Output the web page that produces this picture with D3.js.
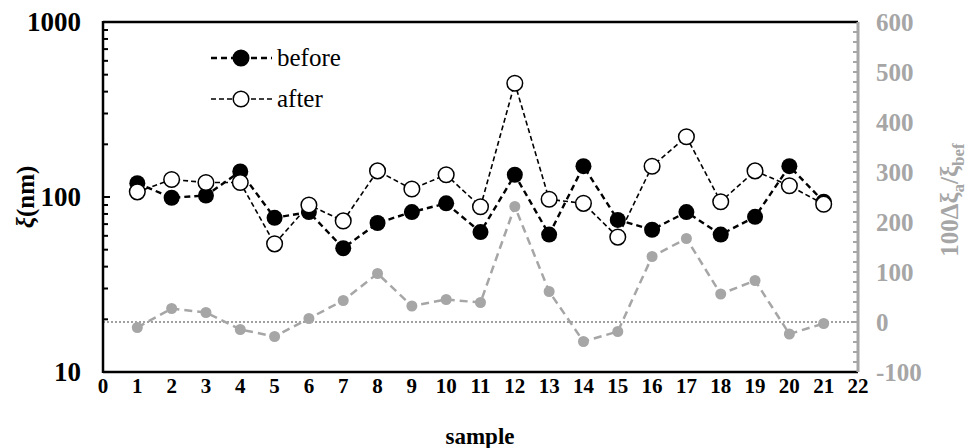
<!DOCTYPE html>
<html><head><meta charset="utf-8">
<script src="https://cdn.jsdelivr.net/npm/d3@7"></script>
<style>body{margin:0;background:#fff}svg{display:block}</style>
</head><body>
<svg id="c" width="971" height="448"></svg>
<script>
const samples = [1,2,3,4,5,6,7,8,9,10,11,12,13,14,15,16,17,18,19,20,21];
const before = [120,99,102,140,76,82,51,71,82,92,63,134,61,150,74,65,82,61,77,150,94];
const after = [107,126,121,121,54,90,73,141,111,134,88,447,97,92,59,150,221,94,141,116,91];
const change = [-11,27,19,-15,-29,7,43,97,32,45,39,231,61,-39,-19,131,167,56,83,-24,-3];
const xTicks = d3.range(0,23);
const leftTicks = [10,100,1000];
const rightTicks = [-100,0,100,200,300,400,500,600];

const svg = d3.select("#c");
const L=103, R=858, T=22, B=372;
const x = d3.scaleLinear().domain([0,22]).range([L,R]);
const yL = d3.scaleLog().domain([10,1000]).range([B,T]);
const yR = d3.scaleLinear().domain([-100,600]).range([B,T]);
const serif = "'Liberation Serif','Times New Roman',serif";

// zero dotted line
svg.append("line").attr("x1",L).attr("x2",R).attr("y1",yR(0)).attr("y2",yR(0))
  .attr("stroke","#a0a0a0").attr("stroke-width",2).attr("stroke-dasharray","2,2");

// left minor/major ticks (inside)
const minor = [];
[10,100].forEach(d=>{for(let k=2;k<=9;k++) minor.push(d*k);});
svg.append("g").selectAll("line").data(minor).join("line")
  .attr("x1",L).attr("x2",L+5).attr("y1",d=>yL(d)).attr("y2",d=>yL(d))
  .attr("stroke","#000").attr("stroke-width",2);
svg.append("g").selectAll("line").data(leftTicks).join("line")
  .attr("x1",L).attr("x2",L+7).attr("y1",d=>yL(d)).attr("y2",d=>yL(d))
  .attr("stroke","#000").attr("stroke-width",2);

// right ticks (inside) every 20
const rminor = d3.range(-100,601,20);
svg.append("g").selectAll("line").data(rminor).join("line")
  .attr("x1",R-5).attr("x2",R).attr("y1",d=>yR(d)).attr("y2",d=>yR(d))
  .attr("stroke","#a6a6a6").attr("stroke-width",2);

// frame
svg.append("line").attr("x1",L).attr("x2",R).attr("y1",T).attr("y2",T).attr("stroke","#000").attr("stroke-width",2.5);
svg.append("line").attr("x1",L).attr("x2",R).attr("y1",B).attr("y2",B).attr("stroke","#000").attr("stroke-width",2.5);
svg.append("line").attr("x1",L).attr("x2",L).attr("y1",T-1).attr("y2",B+1).attr("stroke","#000").attr("stroke-width",2.5);
svg.append("line").attr("x1",R).attr("x2",R).attr("y1",T).attr("y2",B).attr("stroke","#a6a6a6").attr("stroke-width",3);

// tick labels
svg.append("g").selectAll("text").data(leftTicks).join("text")
  .attr("x",L-22).attr("y",d=>yL(d)).attr("dy","0.35em").attr("text-anchor","end")
  .attr("font-family",serif).attr("font-weight","bold").attr("font-size",27).text(d=>d);
svg.append("g").selectAll("text").data(rightTicks).join("text")
  .attr("x",R+18).attr("y",d=>yR(d)).attr("dy","0.35em").attr("text-anchor","start")
  .attr("font-family",serif).attr("font-weight","bold").attr("font-size",25).attr("fill","#a6a6a6").text(d=>d);
svg.append("g").selectAll("text").data(xTicks).join("text")
  .attr("x",d=>x(d)).attr("y",B+14).attr("dy","0.35em").attr("text-anchor","middle")
  .attr("font-family",serif).attr("font-weight","bold").attr("font-size",21).text(d=>d);

// axis titles
svg.append("text").attr("x",480).attr("y",444).attr("text-anchor","middle")
  .attr("font-family",serif).attr("font-weight","bold").attr("font-size",23).text("sample");
const yt = svg.append("text").attr("transform","translate(34,197) rotate(-90)").attr("text-anchor","middle")
  .attr("font-family",serif).attr("font-weight","bold").attr("font-size",25);
yt.append("tspan").attr("font-style","italic").text("ξ");
yt.append("tspan").text("(nm)");
const rt = svg.append("text").attr("transform","translate(958,200) rotate(-90)").attr("text-anchor","middle")
  .attr("font-family",serif).attr("font-weight","bold").attr("font-size",25).attr("fill","#a6a6a6");
rt.append("tspan").text("100Δξ");
rt.append("tspan").attr("font-size",17).attr("dy",6).text("a");
rt.append("tspan").attr("dy",-6).text("/ξ");
rt.append("tspan").attr("font-size",17).attr("dy",6).text("bef");

// series
const lineL = (arr)=>d3.line().x((d,i)=>x(samples[i])).y(d=>yL(d))(arr);
const lineR = d3.line().x((d,i)=>x(samples[i])).y(d=>yR(d));

svg.append("path").attr("d",lineR(change)).attr("fill","none").attr("stroke","#a6a6a6")
  .attr("stroke-width",2.5).attr("stroke-dasharray","8,5");
svg.append("g").selectAll("circle").data(change).join("circle")
  .attr("cx",(d,i)=>x(samples[i])).attr("cy",d=>yR(d)).attr("r",5.5).attr("fill","#a6a6a6");

svg.append("path").attr("d",lineL(after)).attr("fill","none").attr("stroke","#000")
  .attr("stroke-width",1.6).attr("stroke-dasharray","5,3");
svg.append("path").attr("d",lineL(before)).attr("fill","none").attr("stroke","#000")
  .attr("stroke-width",2.4).attr("stroke-dasharray","6,4");
svg.append("g").selectAll("circle").data(before).join("circle")
  .attr("cx",(d,i)=>x(samples[i])).attr("cy",d=>yL(d)).attr("r",8).attr("fill","#000");
svg.append("g").selectAll("circle").data(after).join("circle")
  .attr("cx",(d,i)=>x(samples[i])).attr("cy",d=>yL(d)).attr("r",7.8).attr("fill","#fff")
  .attr("stroke","#000").attr("stroke-width",1.5);

// legend
const lg = [{name:"before", y:58, fill:"#000", w:2.4, dash:"6,4"},{name:"after", y:99, fill:"#fff", w:1.6, dash:"5,3"}];
lg.forEach(e=>{
  svg.append("line").attr("x1",211).attr("x2",272).attr("y1",e.y).attr("y2",e.y)
    .attr("stroke","#000").attr("stroke-width",e.w).attr("stroke-dasharray",e.dash);
  svg.append("circle").attr("cx",241).attr("cy",e.y).attr("r",7.8).attr("fill",e.fill)
    .attr("stroke","#000").attr("stroke-width",1.5);
  svg.append("text").attr("x",277).attr("y",e.y).attr("dy","0.32em")
    .attr("font-family",serif).attr("font-size",25).text(e.name);
});
</script>
</body></html>
